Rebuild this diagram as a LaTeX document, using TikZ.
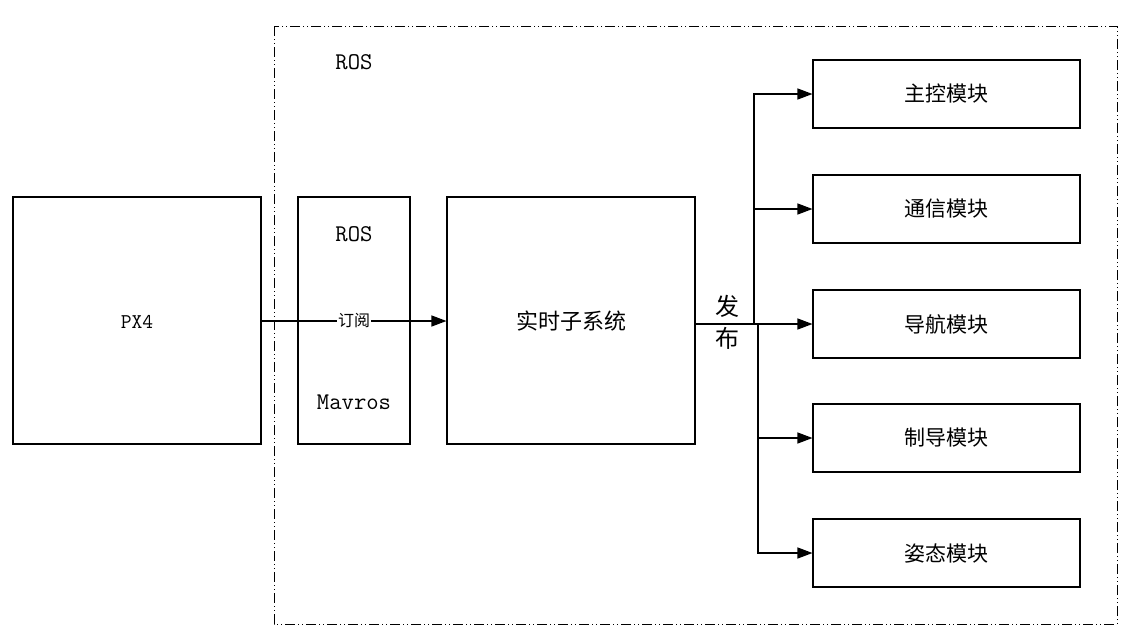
\documentclass[tikz,border=0pt]{standalone}
\usepackage{fontspec}
\newfontfamily\cjk{Noto Sans CJK SC}
\usetikzlibrary{arrows.meta}
\begin{document}
\begin{tikzpicture}[x=1pt,y=-1pt,
  box/.style={draw,line width=1.1pt,inner sep=0pt},
  arr/.style={line width=1.3pt,-{Triangle[length=15pt,width=11pt]}},
  lbl/.style={inner sep=1pt}]
\useasboundingbox (0,0) rectangle (1138,635);
% ROS region
\draw[line width=1pt,dash pattern=on 10pt off 3pt on 1pt off 3pt on 1pt off 3pt] (274,26) rectangle (1117,624);
\node[lbl,font=\ttfamily\fontsize{24}{24}\selectfont] (rostop) at (354,62) {ROS};
% boxes
\node[box,minimum width=248pt,minimum height=247pt] (px4) at (137,320.5) {};
\node[lbl,font=\ttfamily\fontsize{21}{21}\selectfont] (px4t) at (137,322) {PX4};
\node[box,minimum width=112pt,minimum height=247pt] (mav) at (354,320.5) {};
\node[lbl,font=\ttfamily\fontsize{24}{24}\selectfont] (ros2) at (354,234) {ROS};
\node[lbl,font=\ttfamily\fontsize{24}{24}\selectfont] (mavt) at (354,402) {Mavros};
\node[box,minimum width=248pt,minimum height=247pt] (sys) at (571,320.5) {};
\node[lbl,font=\cjk\fontsize{22}{22}\selectfont] (syst) at (571,321) {实时子系统};
% modules
\foreach \n/\y/\t in {m1/94/主控模块,m2/209/通信模块,m3/324/导航模块,m4/438/制导模块,m5/553/姿态模块}{
  \node[box,minimum width=267pt,minimum height=68pt] (\n) at (946.5,\y) {};
  \node[lbl,font=\cjk\fontsize{21}{21}\selectfont] (\n t) at (946.5,\y) {\t};
}
% subscribe
\draw[arr] (px4.east |- 0,321) -- (sys.west |- 0,321)
  node[midway,fill=white,inner sep=1pt,font=\cjk\fontsize{16}{16}\selectfont] (sub) {订阅};
% publish
\coordinate (hubA) at (754,324);
\coordinate (hubB) at (758,324);
\draw[line width=2.4pt] (sys.east |- 0,324) -- (hubB);
\node[lbl,font=\cjk\fontsize{24}{24}\selectfont] (fa) at (727,306) {发};
\node[lbl,font=\cjk\fontsize{24}{24}\selectfont] (bu) at (727,338) {布};
\draw[arr] (hubA) |- (m1.west);
\draw[arr] (hubA) |- (m2.west);
\draw[arr] (hubB) -- (m3.west |- hubB);
\draw[arr] (hubB) |- (m4.west);
\draw[arr] (hubB) |- (m5.west);
\end{tikzpicture}
\end{document}
